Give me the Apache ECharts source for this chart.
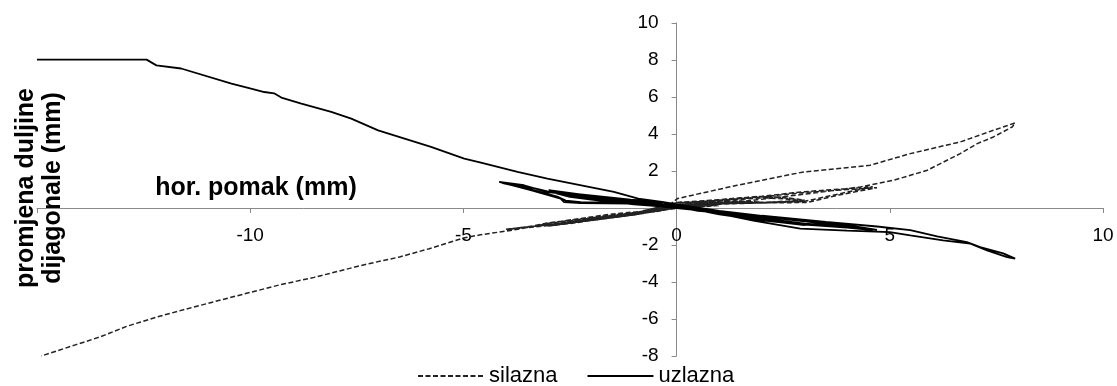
<!DOCTYPE html>
<html>
<head>
<meta charset="utf-8">
<script src="https://cdn.jsdelivr.net/npm/echarts@6/dist/echarts.min.js"></script>
<style>
html,body{margin:0;padding:0;background:#fff;}
#chart{width:1117px;height:386px;}
</style>
</head>
<body>
<div id="chart"></div>
<script>
// ---- data ----
var seriesNames = ['silazna', 'uzlazna'];
var xTitle = 'hor. pomak (mm)';
var yTitle = 'promjena duljine\ndijagonale (mm)';

// silazna (dashed): repeated small cycles near origin
var silaznaSmall = [
  [0,0],[0.5,0.05],[1,0.14],[0.5,0.12],[0,0.04],[-0.5,-0.1],[-1,-0.26],[-0.5,-0.18],[0,-0.02],
  [0.5,0.07],[1,0.16],[0.5,0.14],[0,0.06],[-0.5,-0.12],[-1,-0.29],[-0.5,-0.2],[0,0],
  [0.5,0.08],[1,0.18],[0.5,0.15],[0,0.07],[-0.5,-0.13],[-1,-0.3],[-0.5,-0.2],[0,0.01],
  [1,0.2],[2,0.28],[1.5,0.34],[1,0.3],[0,0.12],[-1,-0.3],[-2,-0.6],[-1.5,-0.5],[-1,-0.35],[0,0],
  [1,0.22],[2,0.3],[1.5,0.36],[1,0.33],[0,0.14],[-1,-0.32],[-2,-0.63],[-1.5,-0.52],[-1,-0.37],[0,0.01],
  [1,0.23],[2,0.31],[1.5,0.38],[1,0.35],[0,0.15],[-1,-0.33],[-2,-0.65],[-1.5,-0.53],[-1,-0.38],[0,0.02],
  [1,0.24],[2,0.27],[3,0.35],[2.5,0.5],[2,0.55],[1,0.38],[0,0.15],[-1,-0.32],[-2,-0.62],[-3,-0.92],[-2.5,-0.8],[-2,-0.65],[-1,-0.35],[0,0.02],
  [1,0.25],[2,0.28],[3,0.4],[2.5,0.55],[2,0.6],[1,0.42],[0,0.18],[-1,-0.34],[-2,-0.64],[-3,-0.95],[-2.5,-0.82],[-2,-0.67],[-1,-0.36],[0,0.03],
  [1,0.26],[2,0.29],[3,0.43],[2.5,0.58],[2,0.63],[1,0.45],[0,0.2],[-1,-0.35],[-2,-0.66],[-3,-0.97],[-2.5,-0.84],[-2,-0.68],[-1,-0.37],[0,0.04],
  [0.55,0.25],[1.5,0.26],[3.07,0.3],[3.8,0.7],[4.7,1.1],[4.0,1.0],[3.0,0.84],[2.0,0.6],[1.0,0.42],[0,0.28],
  [-1,-0.27],[-2,-0.57],[-3,-0.9],[-4,-1.15],[-3.5,-1.02],[-3,-0.8],[-2,-0.52],[-1,-0.24],[0,0.05],
  [0.55,0.27],[1.5,0.28],[3.0,0.36],[3.8,0.76],[4.6,1.15],[4.0,1.05],[3.0,0.88],[2.0,0.64],[1.0,0.45],[0,0.3],
  [-1,-0.29],[-2,-0.6],[-3,-0.94],[-4,-1.18],[-3.5,-1.05],[-3,-0.83],[-2,-0.54],[-1,-0.26],[0,0.06]
];
// silazna: large cycle to +8
var silaznaRight = [
  [0.55,0.2],[1.42,0.32],[2.98,0.74],[4.31,1.14],[5.09,1.5],[5.88,2.04],[6.65,2.94],[7.05,3.48],
  [7.43,3.84],[7.87,4.38],[7.94,4.6],[7.43,4.2],[6.65,3.57],[5.48,2.94],[4.54,2.31],[2.98,1.95],
  [1.42,1.23],[0.02,0.51]
];
// silazna: final run to -15
var silaznaLeft = [
  [-0.3,-0.08],[-1.5,-0.32],[-2.6,-0.68],[-3.8,-1.18],[-4.6,-1.45],[-5.0,-1.62],[-5.8,-2.2],
  [-6.5,-2.65],[-7.3,-3.05],[-8.5,-3.75],[-9.3,-4.15],[-10.4,-4.8],[-11.4,-5.4],[-12.2,-5.9],
  [-12.9,-6.4],[-13.5,-6.95],[-14.1,-7.4],[-14.9,-8.0]
];

// uzlazna (solid): repeated small cycles near origin
var uzlaznaSmall = [
  [0,0],[0.5,-0.08],[1,-0.2],[0.5,-0.12],[0,0.05],[-0.5,0.12],[-1,0.25],[-0.5,0.15],[0,0.02],
  [0.5,-0.1],[1,-0.23],[0.5,-0.14],[0,0.07],[-0.5,0.14],[-1,0.28],[-0.5,0.17],[0,0.04],
  [0.5,-0.11],[1,-0.25],[0.5,-0.15],[0,0.08],[-0.5,0.15],[-1,0.3],[-0.5,0.18],[0,0.05],
  [1,-0.22],[2,-0.5],[1.5,-0.4],[1,-0.3],[0,0.05],[-1,0.3],[-2,0.5],[-1.5,0.35],[-1,0.22],[0,0],
  [1,-0.24],[2,-0.54],[1.5,-0.42],[1,-0.32],[0,0.07],[-1,0.33],[-2,0.54],[-1.5,0.38],[-1,0.25],[0,0.02],
  [1,-0.26],[2,-0.57],[1.5,-0.44],[1,-0.33],[0,0.09],[-1,0.35],[-2,0.57],[-1.5,0.4],[-1,0.27],[0,0.03],
  [1,-0.25],[2,-0.55],[3,-0.85],[2.5,-0.72],[2,-0.62],[1,-0.3],[0,0.08],[-1,0.35],[-2,0.6],[-3,0.9],[-2.5,0.6],[-2,0.45],[-1,0.2],[0,0.02],
  [1,-0.27],[2,-0.58],[3,-0.9],[2.5,-0.76],[2,-0.65],[1,-0.32],[0,0.1],[-1,0.37],[-2,0.63],[-3,0.94],[-2.5,0.63],[-2,0.48],[-1,0.22],[0,0.03],
  [1,-0.29],[2,-0.6],[3,-0.93],[2.5,-0.79],[2,-0.67],[1,-0.34],[0,0.12],[-1,0.39],[-2,0.66],[-3,0.97],[-2.5,0.66],[-2,0.5],[-1,0.24],[0,0.04],
  [1,-0.25],[2,-0.55],[3,-0.85],[4,-1.0],[4.7,-1.18],[4,-0.92],[3,-0.68],[2,-0.42],[1,-0.15],[0,0.1],
  [-0.3,0.3],[-1.08,0.42],[-2.25,0.69],[-3.03,0.86],[-3.58,1.23],[-4.16,1.41],[-3.42,0.96],
  [-2.72,0.51],[-2.64,0.32],[-2.25,0.27],[-1.08,0.24],[0,0.05],
  [1,-0.28],[2,-0.6],[3,-0.9],[4,-1.06],[4.6,-1.2],[4,-0.97],[3,-0.72],[2,-0.46],[1,-0.18],[0,0.12],
  [-0.3,0.32],[-1.08,0.45],[-2.25,0.73],[-3.03,0.9],[-3.5,1.15],[-4.1,1.36],[-3.4,1.0],
  [-2.8,0.62],[-2.6,0.4],[-2.25,0.32],[-1.08,0.27],[0,0.06]
];
// uzlazna: large cycle to +8
var uzlaznaRight = [
  [1.0,-0.3],[1.8,-0.68],[2.9,-1.12],[4.0,-1.22],[5.0,-1.3],[5.48,-1.48],[6.25,-1.75],[6.89,-1.93],
  [7.28,-2.29],[7.75,-2.65],[7.94,-2.74],[7.66,-2.45],[7.12,-2.11],[6.81,-1.84],[6.11,-1.54],
  [5.48,-1.2],[4.7,-1.0],[3.5,-0.75],[2.0,-0.42],[1.0,-0.15],[0,0.2]
];
// uzlazna: final run to -15
var uzlaznaLeft = [
  [-0.3,0.32],[-0.9,0.51],[-1.47,0.87],[-3.03,1.59],[-3.73,1.95],[-4.59,2.45],[-4.98,2.67],
  [-5.76,3.3],[-7.0,4.2],[-7.63,4.83],[-8.1,5.2],[-8.8,5.64],[-9.27,5.97],[-9.44,6.2],[-9.67,6.27],
  [-9.98,6.45],[-10.44,6.72],[-11.62,7.54],[-12.2,7.71],[-12.43,8.02],[-15,8.02]
];

var xMin = -15, xMax = 10, xStep = 5;
var yMin = -8, yMax = 10, yStep = 2;

// ---- chart ----
var silazna = silaznaSmall.concat(silaznaRight, silaznaLeft);
var uzlazna = uzlaznaSmall.concat(uzlaznaRight, uzlaznaLeft);

var W = 1117, H = 386;
var gridL = 37, gridR = 14, gridT = 23, gridB = 30;
var plotW = W - gridL - gridR, plotH = H - gridT - gridB;
// shift the axes so that they cross at the origin (labels travel with them)
var yAxisOffset = -plotW * (0 - xMin) / (xMax - xMin);
var xAxisOffset = -plotH * (0 - yMin) / (yMax - yMin);

var chart = echarts.init(document.getElementById('chart'), null, {renderer: 'canvas'});
var font = 'Liberation Sans';
var axisGray = '#8a8a8a';

chart.setOption({
  animation: false,
  backgroundColor: '#ffffff',
  grid: {left: gridL, right: gridR, top: gridT, bottom: gridB, containLabel: false},
  xAxis: {
    type: 'value', min: xMin, max: xMax, interval: xStep,
    position: 'bottom', offset: xAxisOffset,
    axisLine: {onZero: false, lineStyle: {color: axisGray, width: 1}},
    axisTick: {show: true, length: 5, lineStyle: {color: axisGray}},
    splitLine: {show: false},
    axisLabel: {
      margin: 18, fontSize: 19, fontFamily: font, color: '#000',
      formatter: function (v) { return v === xMin ? '' : String(v); }
    }
  },
  yAxis: {
    type: 'value', min: yMin, max: yMax, interval: yStep,
    position: 'left', offset: yAxisOffset,
    axisLine: {onZero: false, lineStyle: {color: axisGray, width: 1}},
    axisTick: {show: true, length: 5, lineStyle: {color: axisGray}},
    splitLine: {show: false},
    axisLabel: {
      margin: 18, fontSize: 19, fontFamily: font, color: '#000',
      formatter: function (v) { return v === 0 ? '' : String(v); }
    }
  },
  legend: {
    left: 412, top: 360,
    itemWidth: 66, itemHeight: 14, itemGap: 29,
    itemStyle: {opacity: 0},
    textStyle: {fontSize: 22, fontFamily: font, color: '#000'},
    data: seriesNames
  },
  graphic: [
    {
      type: 'text', x: 256, y: 188,
      style: {text: xTitle, font: 'bold 25px "Liberation Sans"', fill: '#000',
              textAlign: 'center', textVerticalAlign: 'middle'}
    },
    {
      type: 'text', x: 40, y: 188, rotation: Math.PI / 2,
      style: {text: yTitle, font: 'bold 25px "Liberation Sans"', fill: '#000', lineHeight: 27,
              textAlign: 'center', textVerticalAlign: 'middle'}
    }
  ],
  series: [
    {
      name: seriesNames[0], type: 'line', data: silazna,
      symbol: 'none', showSymbol: false, smooth: false,
      lineStyle: {color: '#222', width: 1.5, type: [5, 2.5]},
      itemStyle: {color: '#222'}
    },
    {
      name: seriesNames[1], type: 'line', data: uzlazna,
      symbol: 'none', showSymbol: false, smooth: false,
      lineStyle: {color: '#000', width: 1.8, type: 'solid'},
      itemStyle: {color: '#000'}
    }
  ]
});
</script>
</body>
</html>
